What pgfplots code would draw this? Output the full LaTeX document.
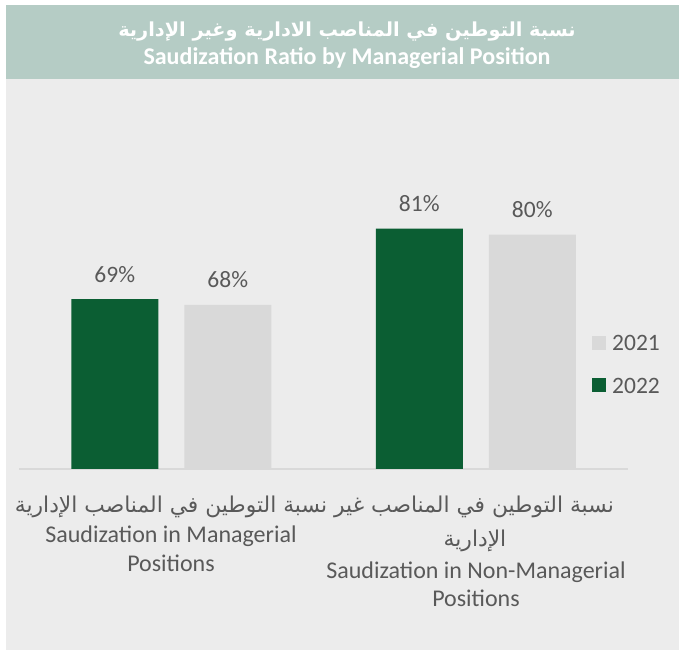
\documentclass[border=0pt]{standalone}
\usepackage{pgfplots}
\pgfplotsset{compat=1.18}
\usepackage{fontspec}
\setmainfont{Carlito}
\newfontfamily\arabicfont[Script=Arabic]{DejaVu Sans}
\TeXXeTstate=1
\definecolor{bgc}{HTML}{ECECEC}
\definecolor{hdr}{HTML}{B5CCC5}
\definecolor{grn}{HTML}{0B5E33}
\definecolor{gry}{HTML}{D9D9D9}
\definecolor{txt}{HTML}{595959}
\begin{document}
\begin{tikzpicture}[x=1pt,y=1pt]
\fill[white] (0,0) rectangle (679,650);
\fill[bgc] (6,0) rectangle (679,645);
\fill[hdr] (6,571) rectangle (679,645);
\node[anchor=base, text=white, inner sep=0pt, font=\arabicfont\bfseries\fontsize{19.3}{22}\selectfont] at (347,613) {\beginR نسبة التوطين في المناصب الادارية وغير الإدارية\endR};
\node[anchor=base, text=white, inner sep=0pt, font=\bfseries\fontsize{24}{26}\selectfont] at (347,585) {Saudization Ratio by Managerial Position};
\begin{axis}[
  at={(19pt,181pt)}, anchor=south west,
  scale only axis, width=609pt, height=293pt,
  ybar=26pt, bar width=87pt,
  xmin=-0.5, xmax=1.5, ymin=40, ymax=90,
  enlargelimits=false,
  axis y line=none, axis x line=bottom,
  x axis line style={draw=gry, line width=1.5pt, -},
  xtick=\empty, ytick=\empty,
  nodes near coords={\pgfmathprintnumber[assume math mode=true]{\pgfplotspointmeta}\%},
  every node near coord/.append style={anchor=base, yshift=17pt, font=\fontsize{23.5}{28}\selectfont, text=txt},
  every axis plot post/.append style={legend image code/.code={\fill[##1] (0pt,-6pt) rectangle (14pt,8pt);}},
  legend style={at={(0.936,0.464)}, anchor=north west, draw=none, fill=none,
    font=\fontsize{23.5}{28}\selectfont, text=txt, row sep=26pt,
    nodes={inner sep=0pt},
    /tikz/every odd column/.append style={column sep=6pt}},
  legend cell align=left,
  reverse legend,
]
\addplot[fill=grn, draw=none] coordinates {(0,69) (1,81)};
\addlegendentry{2022}
\addplot[fill=gry, draw=none] coordinates {(0,68) (1,80)};
\addlegendentry{2021}
\end{axis}
\begin{scope}[every node/.style={anchor=base, text=txt, inner sep=0pt, font=\fontsize{24}{28}\selectfont}]
\node[font=\arabicfont\fontsize{21.8}{24}\selectfont] at (171,137) {\beginR نسبة التوطين في المناصب الإدارية\endR};
\node at (171,107) {Saudization in Managerial};
\node at (171,78) {Positions};
\node[font=\arabicfont\fontsize{21.8}{24}\selectfont] at (474,137) {\beginR نسبة التوطين في المناصب غير\endR};
\node[font=\arabicfont\fontsize{21.8}{24}\selectfont] at (475,103) {\beginR الإدارية\endR};
\node at (476,72) {Saudization in Non-Managerial};
\node at (476,44) {Positions};
\end{scope}
\end{tikzpicture}
\end{document}
